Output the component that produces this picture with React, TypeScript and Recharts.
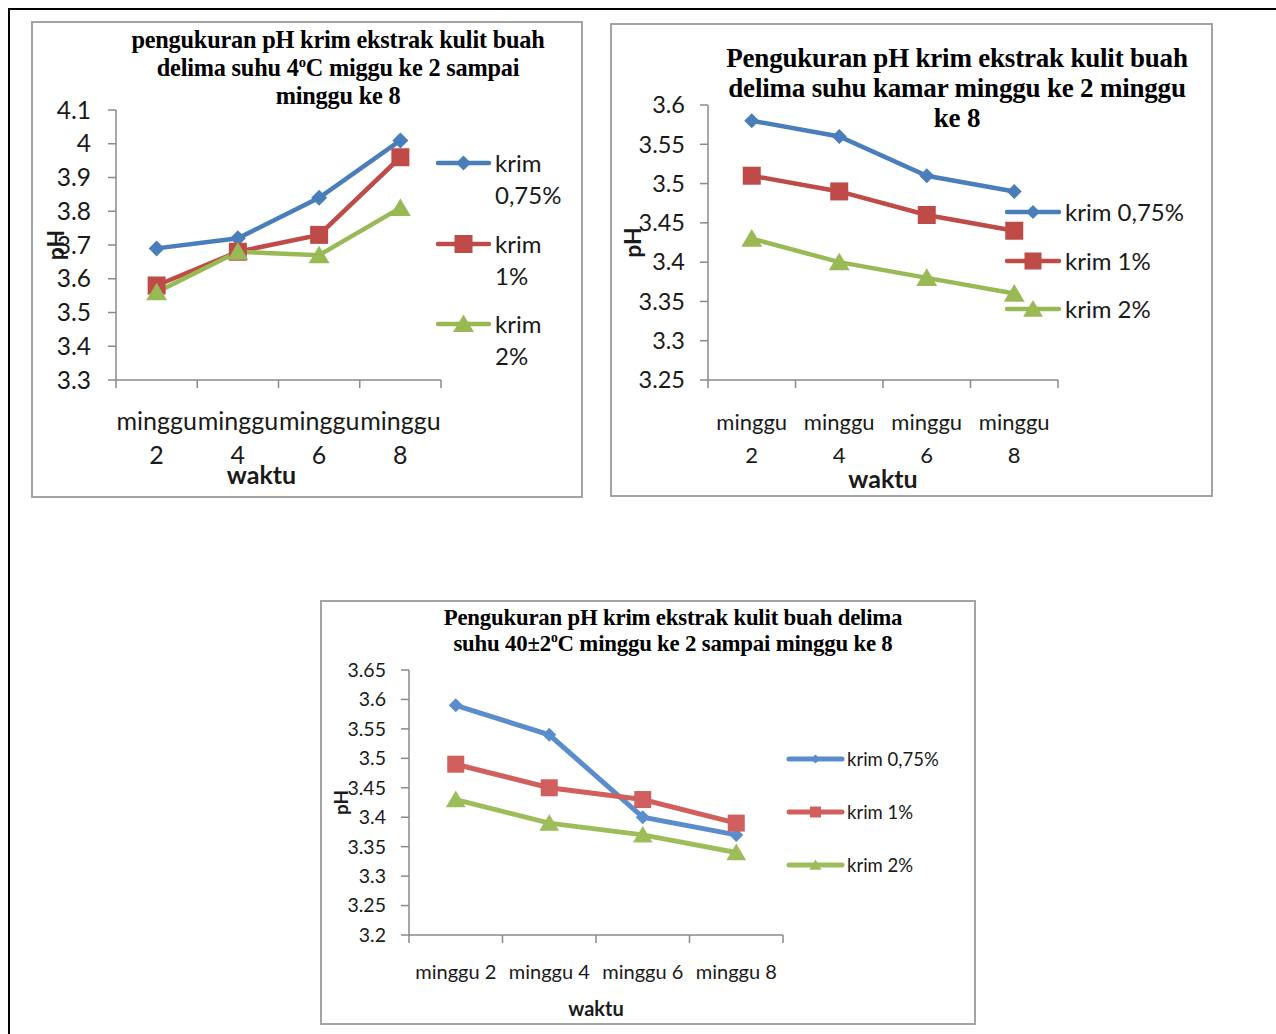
import React from 'react';
import { LineChart, Line, XAxis, YAxis, Legend } from 'recharts';

const weekLabels = ['minggu 2', 'minggu 4', 'minggu 6', 'minggu 8'];
const seriesNames = ['krim 0,75%', 'krim 1%', 'krim 2%'];

// suhu 4oC
const cold075 = [3.69, 3.72, 3.84, 4.01];
const cold1 = [3.58, 3.68, 3.73, 3.96];
const cold2 = [3.56, 3.68, 3.67, 3.81];
const coldTicks = [3.3, 3.4, 3.5, 3.6, 3.7, 3.8, 3.9, 4, 4.1];

// suhu kamar
const room075 = [3.58, 3.56, 3.51, 3.49];
const room1 = [3.51, 3.49, 3.46, 3.44];
const room2 = [3.43, 3.4, 3.38, 3.36];
const roomTicks = [3.25, 3.3, 3.35, 3.4, 3.45, 3.5, 3.55, 3.6];

// suhu 40±2oC
const hot075 = [3.59, 3.54, 3.4, 3.37];
const hot1 = [3.49, 3.45, 3.43, 3.39];
const hot2 = [3.43, 3.39, 3.37, 3.34];
const hotTicks = [3.2, 3.25, 3.3, 3.35, 3.4, 3.45, 3.5, 3.55, 3.6, 3.65];

const makeData = (a: number[], b: number[], c: number[]) =>
  weekLabels.map((w, i) => ({ week: w, k075: a[i], k1: b[i], k2: c[i] }));

const keys = ['k075', 'k1', 'k2'];
const shapes = ['diamond', 'square', 'triangle'];
const sans = 'Lato, "Open Sans", sans-serif';
const serif = '"Liberation Serif", "Times New Roman", serif';
const axisColor = '#8a8a8a';
const textColor = '#1a1a1a';
const supStyle = { fontSize: '0.6em', position: 'relative' as const, top: '-0.65em', verticalAlign: 'baseline' };

const Marker = ({ shape, cx, cy, s, fill }: any) => {
  if (cx == null || cy == null) return null;
  if (shape === 'diamond')
    return <polygon points={`${cx},${cy - s} ${cx + s},${cy} ${cx},${cy + s} ${cx - s},${cy}`} fill={fill} />;
  if (shape === 'square') return <rect x={cx - s} y={cy - s} width={2 * s} height={2 * s} fill={fill} />;
  return (
    <polygon
      points={`${cx},${cy - s} ${cx + s * 1.1},${cy + s * 0.85} ${cx - s * 1.1},${cy + s * 0.85}`}
      fill={fill}
    />
  );
};

const WeekTick = (props: any) => {
  const { x, y, payload, index, cfg } = props;
  const half = cfg.band / 2;
  const [word, num] = String(payload.value).split(' ');
  return (
    <g>
      <line x1={x - half} y1={y} x2={x - half} y2={y + 8} stroke={axisColor} strokeWidth={1.5} />
      {index === weekLabels.length - 1 && (
        <line x1={x + half} y1={y} x2={x + half} y2={y + 8} stroke={axisColor} strokeWidth={1.5} />
      )}
      {cfg.splitTicks ? (
        <text textAnchor="middle" fontFamily={sans} fontSize={cfg.xFont} fill={textColor}>
          <tspan x={x} y={y + cfg.xLine1 + cfg.xFont * 0.3}>{word}</tspan>
          <tspan x={x} y={y + cfg.xLine2 + cfg.xFont * 0.36}>{num}</tspan>
        </text>
      ) : (
        <text x={x} y={y + cfg.xLine1 + cfg.xFont * 0.3} textAnchor="middle" fontFamily={sans} fontSize={cfg.xFont} fill={textColor}>
          {payload.value}
        </text>
      )}
    </g>
  );
};

const PhChart = ({ cfg, data, ticks, colors }: any) => {
  const { box, plot } = cfg;
  const legendRows = cfg.legend;
  return (
    <div style={{ position: 'absolute', left: box.left, top: box.top, width: box.width, height: box.height }}>
      <div
        style={{
          position: 'absolute', left: 0, top: 0, width: box.width, height: box.height,
          border: '2px solid #a3a3a3', boxSizing: 'border-box',
        }}
      />
      <div
        style={{
          position: 'absolute', left: cfg.title.cx - 320, width: 640, top: cfg.title.top,
          textAlign: 'center', fontFamily: serif, fontWeight: 'bold', fontSize: cfg.title.size,
          lineHeight: `${cfg.title.lh}px`, color: '#000', whiteSpace: 'nowrap', letterSpacing: cfg.title.ls,
        }}
      >
        {cfg.title.lines.map((l: any, i: number) => (
          <div key={i} style={{ height: cfg.title.lh }}>{l}</div>
        ))}
      </div>
      <div style={{ position: 'absolute', left: 0, top: 0 }}>
        <LineChart
          width={box.width}
          height={box.height}
          data={data}
          margin={{
            top: plot.top, left: 0,
            right: box.width - plot.left - plot.width,
            bottom: box.height - plot.top - plot.height - cfg.xHeight,
          }}
        >
          <XAxis
            dataKey="week"
            scale="band"
            height={cfg.xHeight}
            interval={0}
            tickLine={false}
            tickSize={0}
            tickMargin={0}
            axisLine={{ stroke: axisColor, strokeWidth: 1.5 }}
            tick={(p: any) => <WeekTick {...p} cfg={{ ...cfg, band: plot.width / weekLabels.length }} />}
            label={{
              content: (p: any) => {
                const vb = p.viewBox;
                return (
                  <text
                    x={vb.x + vb.width / 2 + cfg.waktu.dx}
                    y={vb.y + cfg.waktu.dy + cfg.waktu.size * 0.36}
                    textAnchor="middle" fontFamily={sans} fontWeight="bold"
                    fontSize={cfg.waktu.size} fill={textColor}
                  >
                    waktu
                  </text>
                );
              },
            }}
          />
          <YAxis
            type="number"
            width={plot.left}
            domain={[ticks[0], ticks[ticks.length - 1]]}
            ticks={ticks}
            interval={0}
            tickSize={8}
            tickMargin={cfg.yMargin}
            axisLine={{ stroke: axisColor, strokeWidth: 1.5 }}
            tickLine={{ stroke: axisColor, strokeWidth: 1.5 }}
            tick={{ fontFamily: sans, fontSize: cfg.yFont, fill: textColor }}
            label={{
              content: (p: any) => {
                const vb = p.viewBox;
                const x = vb.x + cfg.ph.x;
                const y = vb.y + vb.height / 2;
                return (
                  <text
                    x={x} y={y} transform={`rotate(-90 ${x} ${y})`}
                    textAnchor="middle" dominantBaseline="central"
                    fontFamily={sans} fontWeight="bold" fontSize={cfg.ph.size} fill={textColor}
                  >
                    pH
                  </text>
                );
              },
            }}
          />
          <Legend
            layout="vertical"
            align="center"
            verticalAlign="middle"
            wrapperStyle={{ left: 0, top: 0, width: box.width, height: box.height, pointerEvents: 'none' }}
            content={() => (
              <svg width={box.width} height={box.height} style={{ display: 'block' }}>
                {seriesNames.map((n, i) => {
                  const r = legendRows.rows[i];
                  const [first, ...rest] = n.split(' ');
                  return (
                    <g key={n}>
                      <line
                        x1={legendRows.x1} x2={legendRows.x2} y1={r} y2={r}
                        stroke={colors[i]} strokeWidth={cfg.lineW} strokeLinecap="round"
                      />
                      <Marker shape={shapes[i]} cx={(legendRows.x1 + legendRows.x2) / 2} cy={r} s={legendRows.marker[i]} fill={colors[i]} />
                      {legendRows.split ? (
                        <text fontFamily={sans} fontSize={legendRows.size} fill={textColor}>
                          <tspan x={legendRows.tx} y={r + legendRows.size * 0.36}>{first}</tspan>
                          <tspan x={legendRows.tx} y={r + legendRows.gap + legendRows.size * 0.36}>{rest.join(' ')}</tspan>
                        </text>
                      ) : (
                        <text x={legendRows.tx} y={r + legendRows.size * 0.36} fontFamily={sans} fontSize={legendRows.size} fill={textColor}>
                          {n}
                        </text>
                      )}
                    </g>
                  );
                })}
              </svg>
            )}
          />
          {keys.map((k, i) => (
            <Line
              key={k}
              type="linear"
              dataKey={k}
              name={seriesNames[i]}
              stroke={colors[i]}
              strokeWidth={cfg.lineW}
              isAnimationActive={false}
              dot={(p: any) => (
                <Marker key={`${k}-${p.index}`} shape={shapes[i]} cx={p.cx} cy={p.cy} s={cfg.marker[i]} fill={colors[i]} />
              )}
              activeDot={false}
            />
          ))}
        </LineChart>
      </div>
    </div>
  );
};

const coldCfg = {
  box: { left: 31, top: 21, width: 552, height: 477 },
  plot: { left: 85, top: 89, width: 325, height: 270 },
  xHeight: 100,
  splitTicks: true,
  xFont: 25,
  xLine1: 42,
  xLine2: 75,
  yFont: 24.5,
  yMargin: 17,
  lineW: 4.5,
  marker: [8, 9, 9.5],
  waktu: { dx: -17, dy: 95, size: 25 },
  ph: { x: 24, size: 23 },
  title: {
    cx: 307, top: 5, lh: 28, size: 24.3, ls: '-0.2px',
    lines: [
      'pengukuran pH krim ekstrak kulit buah',
      <span>delima suhu 4<sup style={supStyle}>o</sup>C miggu ke 2 sampai</span>,
      'minggu ke 8',
    ],
  },
  legend: { x1: 407, x2: 458, tx: 464, rows: [142, 223, 303], marker: [7.5, 9, 9.5], size: 24, split: true, gap: 32 },
};

const roomCfg = {
  box: { left: 610, top: 23, width: 603, height: 474 },
  plot: { left: 98, top: 82, width: 350, height: 275 },
  xHeight: 100,
  splitTicks: true,
  xFont: 22,
  xLine1: 43,
  xLine2: 75,
  yFont: 23.5,
  yMargin: 15,
  lineW: 4.5,
  marker: [7.5, 9, 9.5],
  waktu: { dx: 0, dy: 99, size: 25 },
  ph: { x: 22, size: 23 },
  title: {
    cx: 347, top: 20, lh: 30, size: 27, ls: '-0.2px',
    lines: [
      'Pengukuran pH krim ekstrak kulit buah',
      'delima suhu kamar minggu ke 2 minggu',
      'ke 8',
    ],
  },
  legend: { x1: 397, x2: 449, tx: 455, rows: [189, 238, 286], marker: [7, 8.5, 9], size: 24, split: false, gap: 0 },
};

const hotCfg = {
  box: { left: 320, top: 600, width: 656, height: 425 },
  plot: { left: 89, top: 70, width: 374, height: 265 },
  xHeight: 80,
  splitTicks: false,
  xFont: 20,
  xLine1: 38,
  xLine2: 0,
  yFont: 19.5,
  yMargin: 15,
  lineW: 5,
  marker: [7, 8.5, 9],
  waktu: { dx: 0, dy: 74, size: 20 },
  ph: { x: 20, size: 19 },
  title: {
    cx: 353, top: 5, lh: 26, size: 22.8, ls: '-0.2px',
    lines: [
      'Pengukuran pH krim ekstrak kulit buah delima',
      <span>suhu 40±2<sup style={supStyle}>o</sup>C minggu  ke 2 sampai minggu  ke 8</span>,
    ],
  },
  legend: { x1: 469, x2: 522, tx: 527, rows: [159, 212, 265], marker: [4.5, 5.5, 5.5], size: 18.5, split: false, gap: 0 },
};

const darkColors = ['#4a7ebb', '#be4b48', '#98b954'];
const lightColors = ['#5b8dcd', '#d05f5e', '#9dbd5a'];

export default function App() {
  return (
    <div style={{ position: 'absolute', left: 0, top: 0, width: 1276, height: 1034, background: '#fff', overflow: 'hidden' }}>
      <div style={{ position: 'absolute', left: 8, top: 8, right: 0, height: 2, background: '#000' }} />
      <div style={{ position: 'absolute', left: 8, top: 8, bottom: 0, width: 2, background: '#000' }} />
      <PhChart cfg={coldCfg} data={makeData(cold075, cold1, cold2)} ticks={coldTicks} colors={darkColors} />
      <PhChart cfg={roomCfg} data={makeData(room075, room1, room2)} ticks={roomTicks} colors={darkColors} />
      <PhChart cfg={hotCfg} data={makeData(hot075, hot1, hot2)} ticks={hotTicks} colors={lightColors} />
    </div>
  );
}
